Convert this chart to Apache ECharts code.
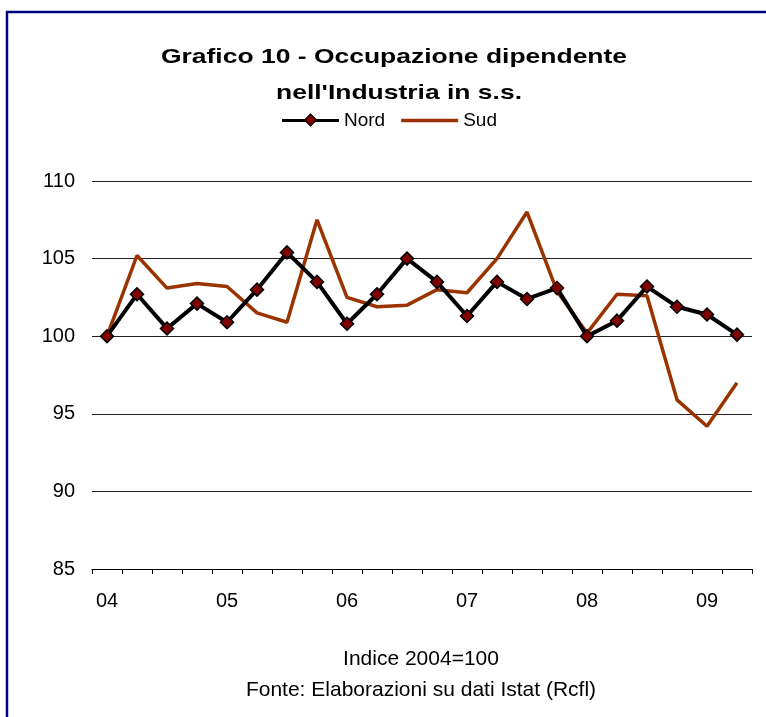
<!DOCTYPE html>
<html>
<head>
<meta charset="utf-8">
<script src="https://cdn.jsdelivr.net/npm/echarts@6/dist/echarts.min.js"></script>
<style>
    html, body { margin: 0; padding: 0; background: #fff; }
    #chart { width: 766px; height: 717px; }
</style>
</head>
<body>
<div id="chart"></div>
<script>
    // trimestri 2004 T1 - 2009 T2
    var quarters = [
        '04', '04T2', '04T3', '04T4',
        '05', '05T2', '05T3', '05T4',
        '06', '06T2', '06T3', '06T4',
        '07', '07T2', '07T3', '07T4',
        '08', '08T2', '08T3', '08T4',
        '09', '09T2'
    ];
    var nord = [100.0, 102.7, 100.5, 102.1, 100.9, 103.0, 105.4, 103.5, 100.8, 102.7, 105.0,
                103.5, 101.3, 103.5, 102.4, 103.1, 100.0, 101.0, 103.2, 101.9, 101.4, 100.1];
    var sud = [100.0, 105.2, 103.1, 103.4, 103.2, 101.5, 100.9, 107.5, 102.5, 101.9, 102.0,
               103.0, 102.8, 105.0, 108.0, 102.9, 100.2, 102.7, 102.6, 95.9, 94.2, 97.0];

    var chart = echarts.init(document.getElementById('chart'));
    var font = 'Liberation Sans, Arial, sans-serif';

    // testo largo come nell'originale (font un po' stirato in orizzontale)
    function wideText(str, x, y, size, bold, sx) {
        return {
            type: 'text',
            x: x,
            y: y,
            scaleX: sx,
            silent: true,
            style: {
                text: str,
                x: 0,
                y: 0,
                align: 'center',
                verticalAlign: 'middle',
                fontFamily: font,
                fontSize: size,
                fontWeight: bold ? 'bold' : 'normal',
                fill: '#000'
            }
        };
    }

    var option = {
        animation: false,
        backgroundColor: '#fff',
        legend: {
            top: 111,
            left: 282,
            padding: 0,
            itemWidth: 57,
            itemHeight: 12,
            itemGap: 16,
            textStyle: { fontFamily: font, fontSize: 19, color: '#000' },
            data: [
                {
                    name: 'Nord',
                    icon: 'path://M0,4.5H57V7.5H0Z',
                    itemStyle: { color: '#000', borderWidth: 0 }
                },
                { name: 'Sud', icon: 'path://M0,4.2H57V7.8H0Z' }
            ]
        },
        grid: { left: 92, right: 14, top: 181, bottom: 148 },
        xAxis: {
            type: 'category',
            data: quarters,
            boundaryGap: true,
            axisLine: { show: true, lineStyle: { color: '#000', width: 1 } },
            axisTick: { show: true, interval: 0, length: 5, lineStyle: { color: '#000', width: 1 } },
            axisLabel: {
                interval: 3,
                margin: 22,
                fontFamily: font,
                fontSize: 20,
                color: '#000',
                formatter: function (v) { return v.slice(0, 2); }
            },
            splitLine: { show: false }
        },
        yAxis: {
            type: 'value',
            min: 85,
            max: 110,
            interval: 5,
            axisLine: { show: false },
            axisTick: { show: false },
            axisLabel: { margin: 17, fontFamily: font, fontSize: 20, color: '#000' },
            splitLine: { lineStyle: { color: '#222', width: 1 } }
        },
        series: [
            {
                name: 'Nord',
                type: 'line',
                data: nord,
                z: 3,
                symbol: 'diamond',
                symbolSize: 13,
                showAllSymbol: true,
                lineStyle: { color: '#000', width: 4 },
                itemStyle: { color: '#800000', borderColor: '#000', borderWidth: 1.5 }
            },
            {
                name: 'Sud',
                type: 'line',
                data: sud,
                z: 2,
                showSymbol: false,
                symbol: 'none',
                lineStyle: { color: '#993300', width: 3.5 },
                itemStyle: { color: '#993300' }
            }
        ],
        graphic: [
            {
                type: 'rect',
                shape: { x: 7, y: 12, width: 780, height: 740 },
                style: { fill: 'none', stroke: '#000080', lineWidth: 2.5 },
                silent: true
            },
            {
                // rombo rosso sopra la linea nera della legenda
                type: 'polygon',
                shape: { points: [[310.5, 114], [316.5, 120], [310.5, 126], [304.5, 120]] },
                style: { fill: '#800000', stroke: '#000', lineWidth: 1.2 },
                z: 100,
                silent: true
            },
            wideText('Grafico 10 - Occupazione dipendente', 394, 57, 21, true, 1.26),
            wideText('nell\'Industria in s.s.', 399, 93, 21, true, 1.26),
            wideText('Indice 2004=100', 421, 659, 21, false, 1.0),
            wideText('Fonte: Elaborazioni su dati Istat (Rcfl)', 421, 690, 21, false, 1.0)
        ]
    };

    chart.setOption(option);
</script>
</body>
</html>
